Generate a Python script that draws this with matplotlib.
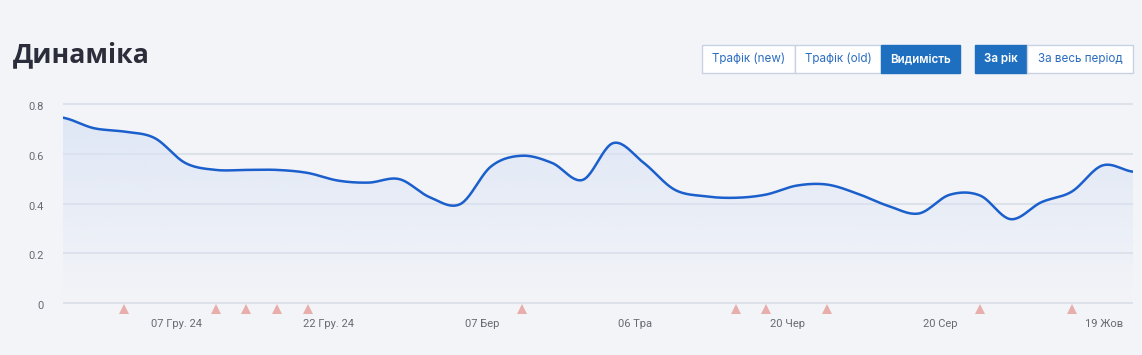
import numpy as np
import matplotlib
matplotlib.use('Agg')
import matplotlib.pyplot as plt
from matplotlib.patches import Rectangle, Polygon

# Visibility values, one per point of the (categorical) time axis
visibility = [0.745, 0.703, 0.689, 0.663, 0.563, 0.535, 0.535, 0.535, 0.523, 0.492,
              0.484, 0.498, 0.425, 0.398, 0.549, 0.592, 0.563, 0.495, 0.643, 0.563,
              0.456, 0.429, 0.423, 0.436, 0.472, 0.476, 0.439, 0.390, 0.360, 0.435,
              0.432, 0.337, 0.405, 0.448, 0.553, 0.528]
# Indices of points that carry an event marker
event_points = [2, 5, 6, 7, 8, 15, 22, 23, 25, 30, 33]
# X tick labels and where they sit on the index axis
tick_labels = ['07 Гру. 24', '22 Гру. 24', '07 Бер', '06 Тра', '20 Чер', '20 Сер', '19 Жов']
tick_pos = [3.7, 8.7, 13.7, 18.7, 23.7, 28.7, 34.05]
y_ticks = [0, 0.2, 0.4, 0.6, 0.8]
y_tick_labels = ['0', '0.2', '0.4', '0.6', '0.8']
tabs = ['Трафік (new)', 'Трафік (old)', 'Видимість']
periods = ['За рік', 'За весь період']

W, H = 1142, 355
BG = '#f3f4f8'
BLUE = '#1a5fcc'
BTN_BLUE = '#1f6fc0'


def catmull_rom(y, n=24):
    """Smooth curve through the points, like the chart's spline rendering."""
    p = np.r_[y[0], y, y[-1]]
    xs, ys = [], []
    t = np.linspace(0, 1, n, endpoint=False)
    for i in range(len(y) - 1):
        p0, p1, p2, p3 = p[i], p[i + 1], p[i + 2], p[i + 3]
        seg = 0.5 * (2 * p1 + (-p0 + p2) * t + (2 * p0 - 5 * p1 + 4 * p2 - p3) * t ** 2
                     + (-p0 + 3 * p1 - 3 * p2 + p3) * t ** 3)
        xs.append(i + t)
        ys.append(seg)
    xs.append([len(y) - 1])
    ys.append([y[-1]])
    return np.concatenate(xs), np.concatenate(ys)


def px_box(left, top, right, bottom):
    return [left / W, 1 - bottom / H, (right - left) / W, (bottom - top) / H]


fig = plt.figure(figsize=(W / 100, H / 100), dpi=100, facecolor=BG)

# Axes: x from 63 to 1133 px, y 0 at 303 px and 0.8 at 104 px
y_top, y_bot = 100, 320
per_unit = (303 - 104) / 0.8
ylim = (-(y_bot - 303) / per_unit, 0.8 + (104 - y_top) / per_unit)
ax = fig.add_axes(px_box(63, y_top, 1133, y_bot))
ax.set_facecolor(BG)
n = len(visibility)
ax.set_xlim(0, n - 1)
ax.set_ylim(*ylim)

for v in y_ticks:
    ax.axhline(v, color='#dde1ea', linewidth=1.5, zorder=1)

xs, ys = catmull_rom(np.array(visibility))

# Gradient fill under the curve
poly = Polygon(np.c_[np.r_[xs, xs[-1], xs[0]], np.r_[ys, 0, 0]], closed=True,
               facecolor='none', edgecolor='none')
ax.add_patch(poly)
grad = np.zeros((100, 2, 4))
rgb = matplotlib.colors.to_rgb('#d9e3f5')
grad[..., 0], grad[..., 1], grad[..., 2] = rgb
grad[..., 3] = np.linspace(0.75, 0.0, 100)[:, None]
im = ax.imshow(grad, extent=[0, n - 1, 0, max(visibility)], aspect='auto',
               origin='upper', zorder=2, interpolation='bilinear')
im.set_clip_path(poly)

ax.plot(xs, ys, color=BLUE, linewidth=1.8, zorder=3, solid_capstyle='round')

ax.plot(event_points, [-0.024] * len(event_points), linestyle='none', marker='^',
        markersize=7.5, color='#e8aeab', markeredgewidth=0, zorder=3, clip_on=False)

for s in ax.spines.values():
    s.set_visible(False)
ax.set_xticks(tick_pos)
ax.set_xticklabels(tick_labels, fontsize=8, color='#666a72', family='Roboto')
ax.tick_params(axis='x', length=0, pad=-1)
ax.set_yticks([])
for v, lab in zip(y_ticks, y_tick_labels):
    ax.text(-19 / (1070 / (n - 1)), v - 0.013, lab, ha='right', va='center',
            fontsize=8, color='#666a72', family='Roboto')

# Title
fig.text(13 / W, 1 - 55 / H, 'Динаміка', fontsize=19.2, fontweight='bold',
         color='#2b2d3a', family='Open Sans', ha='left', va='center')

# Buttons
def button(left, right, label, active):
    top, bottom = 45, 73
    face = BTN_BLUE if active else 'white'
    fig.patches.append(Rectangle((left / W, 1 - bottom / H), (right - left) / W,
                                 (bottom - top) / H, transform=fig.transFigure,
                                 facecolor=face, edgecolor=BTN_BLUE if active else '#c8d2e2',
                                 linewidth=1.0, zorder=1))
    fig.text((left + right) / 2 / W, 1 - (top + bottom) / 2 / H, label,
             ha='center', va='center', fontsize=8.4, family='Inter',
             color='white' if active else '#2a6cc0',
             fontweight='semibold' if active else 'normal', zorder=2)

tab_edges = [702, 795, 881, 960]
for i, lab in enumerate(tabs):
    button(tab_edges[i], tab_edges[i + 1], lab, i == len(tabs) - 1)
period_edges = [975, 1027, 1133]
for i, lab in enumerate(periods):
    button(period_edges[i], period_edges[i + 1], lab, i == 0)

fig.savefig('out.png', dpi=100, facecolor=BG)
